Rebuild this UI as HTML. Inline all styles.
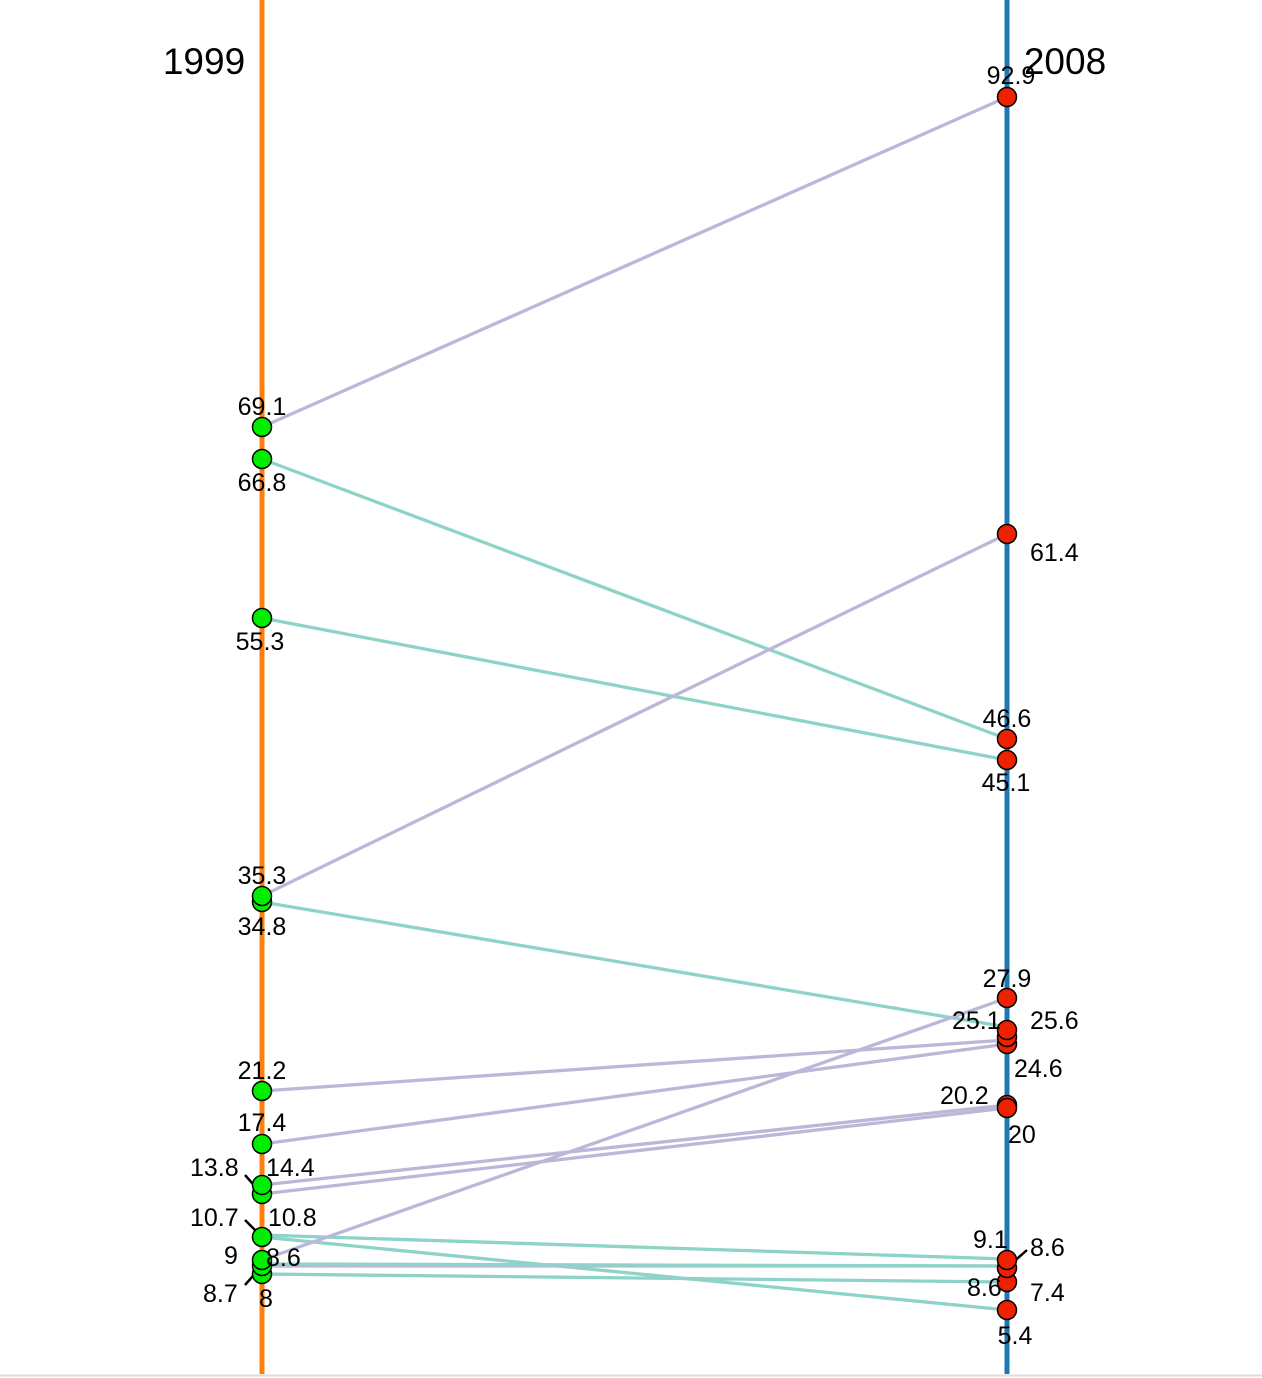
<!DOCTYPE html>
<html><head><meta charset="utf-8"><style>
html,body{margin:0;padding:0;background:#fff}
svg{display:block;font-family:"Liberation Sans",Arial,sans-serif}
</style></head><body>
<svg width="1262" height="1378" viewBox="0 0 1262 1378">
<rect width="1262" height="1378" fill="#fff"/>
<line x1="0" y1="1375.5" x2="1262" y2="1375.5" stroke="#ddd" stroke-width="2"/>
<line x1="262" y1="0" x2="262" y2="1374" stroke="#ff7f0e" stroke-width="5"/>
<line x1="1007" y1="0" x2="1007" y2="1374" stroke="#1f77b4" stroke-width="5"/>
<text x="204" y="74" font-size="37" text-anchor="middle">1999</text>
<text x="1065" y="74" font-size="37" text-anchor="middle">2008</text>
<g stroke-width="3.3" fill="none">
<line x1="262" y1="427" x2="1007" y2="97" stroke="#bcb7d9"/>
<line x1="262" y1="459" x2="1007" y2="739" stroke="#8dd3c7"/>
<line x1="262" y1="618" x2="1007" y2="760" stroke="#8dd3c7"/>
<line x1="262" y1="896" x2="1007" y2="534" stroke="#bcb7d9"/>
<line x1="262" y1="902" x2="1007" y2="1027" stroke="#8dd3c7"/>
<line x1="262" y1="1091" x2="1007" y2="1040" stroke="#bcb7d9"/>
<line x1="262" y1="1144" x2="1007" y2="1044" stroke="#bcb7d9"/>
<line x1="262" y1="1185" x2="1007" y2="1105" stroke="#bcb7d9"/>
<line x1="262" y1="1194" x2="1007" y2="1108" stroke="#bcb7d9"/>
<line x1="262" y1="1235" x2="1007" y2="1259" stroke="#8dd3c7"/>
<line x1="262" y1="1237" x2="1007" y2="1310" stroke="#8dd3c7"/>
<line x1="262" y1="1260" x2="1007" y2="998" stroke="#bcb7d9"/>
<line x1="262" y1="1266" x2="1007" y2="1266" stroke="#bcb7d9"/>
<line x1="262" y1="1264" x2="1007" y2="1266" stroke="#8dd3c7"/>
<line x1="262" y1="1274" x2="1007" y2="1282" stroke="#8dd3c7"/>
</g>
<g stroke="#000" stroke-width="2.5">
<line x1="245" y1="1175" x2="260" y2="1192"/>
<line x1="245" y1="1220" x2="260" y2="1235"/>
<line x1="245" y1="1285" x2="260" y2="1268"/>
<line x1="1027" y1="1250" x2="1010" y2="1265"/>
</g>
<g fill="#00ee00" stroke="#000" stroke-width="1.5">
<circle cx="262" cy="427" r="9.5"/><circle cx="262" cy="459" r="9.5"/><circle cx="262" cy="618" r="9.5"/>
<circle cx="262" cy="902" r="9.5"/><circle cx="262" cy="896" r="9.5"/>
<circle cx="262" cy="1091" r="9.5"/><circle cx="262" cy="1144" r="9.5"/>
<circle cx="262" cy="1194" r="9.5"/><circle cx="262" cy="1185" r="9.5"/>
<circle cx="262" cy="1237" r="9.5"/>
<circle cx="262" cy="1274" r="9.5"/><circle cx="262" cy="1266" r="9.5"/><circle cx="262" cy="1260" r="9.5"/>
</g>
<g fill="#ee2200" stroke="#000" stroke-width="1.5">
<circle cx="1007" cy="97" r="9.5"/><circle cx="1007" cy="534" r="9.5"/>
<circle cx="1007" cy="739" r="9.5"/><circle cx="1007" cy="760" r="9.5"/>
<circle cx="1007" cy="998" r="9.5"/>
<circle cx="1007" cy="1044" r="9.5"/><circle cx="1007" cy="1037" r="9.5"/><circle cx="1007" cy="1030" r="9.5"/>
<circle cx="1007" cy="1105" r="9.5"/><circle cx="1007" cy="1108" r="9.5"/>
<circle cx="1007" cy="1310" r="9.5"/><circle cx="1007" cy="1282" r="9.5"/>
<circle cx="1007" cy="1268" r="9.5"/><circle cx="1007" cy="1260" r="9.5"/>
</g>
<g font-size="25" fill="#000">
<text x="262" y="415" text-anchor="middle">69.1</text>
<text x="262" y="491" text-anchor="middle">66.8</text>
<text x="260" y="650" text-anchor="middle">55.3</text>
<text x="262" y="884" text-anchor="middle">35.3</text>
<text x="262" y="935" text-anchor="middle">34.8</text>
<text x="262" y="1079" text-anchor="middle">21.2</text>
<text x="262" y="1131" text-anchor="middle">17.4</text>
<text x="190" y="1176">13.8</text>
<text x="266" y="1176">14.4</text>
<text x="190" y="1226">10.7</text>
<text x="268" y="1226">10.8</text>
<text x="224" y="1264">9</text>
<text x="266" y="1266">8.6</text>
<text x="203" y="1302">8.7</text>
<text x="259" y="1307">8</text>
<text x="1011" y="84" text-anchor="middle">92.9</text>
<text x="1030" y="561">61.4</text>
<text x="1007" y="727" text-anchor="middle">46.6</text>
<text x="1006" y="791" text-anchor="middle">45.1</text>
<text x="1007" y="987" text-anchor="middle">27.9</text>
<text x="952" y="1029">25.1</text>
<text x="1030" y="1029">25.6</text>
<text x="1014" y="1077">24.6</text>
<text x="940" y="1104">20.2</text>
<text x="1008" y="1143">20</text>
<text x="973" y="1248">9.1</text>
<text x="1030" y="1256">8.6</text>
<text x="967" y="1296">8.6</text>
<text x="1030" y="1301">7.4</text>
<text x="1015" y="1344" text-anchor="middle">5.4</text>
</g>
</svg>
</body></html>
